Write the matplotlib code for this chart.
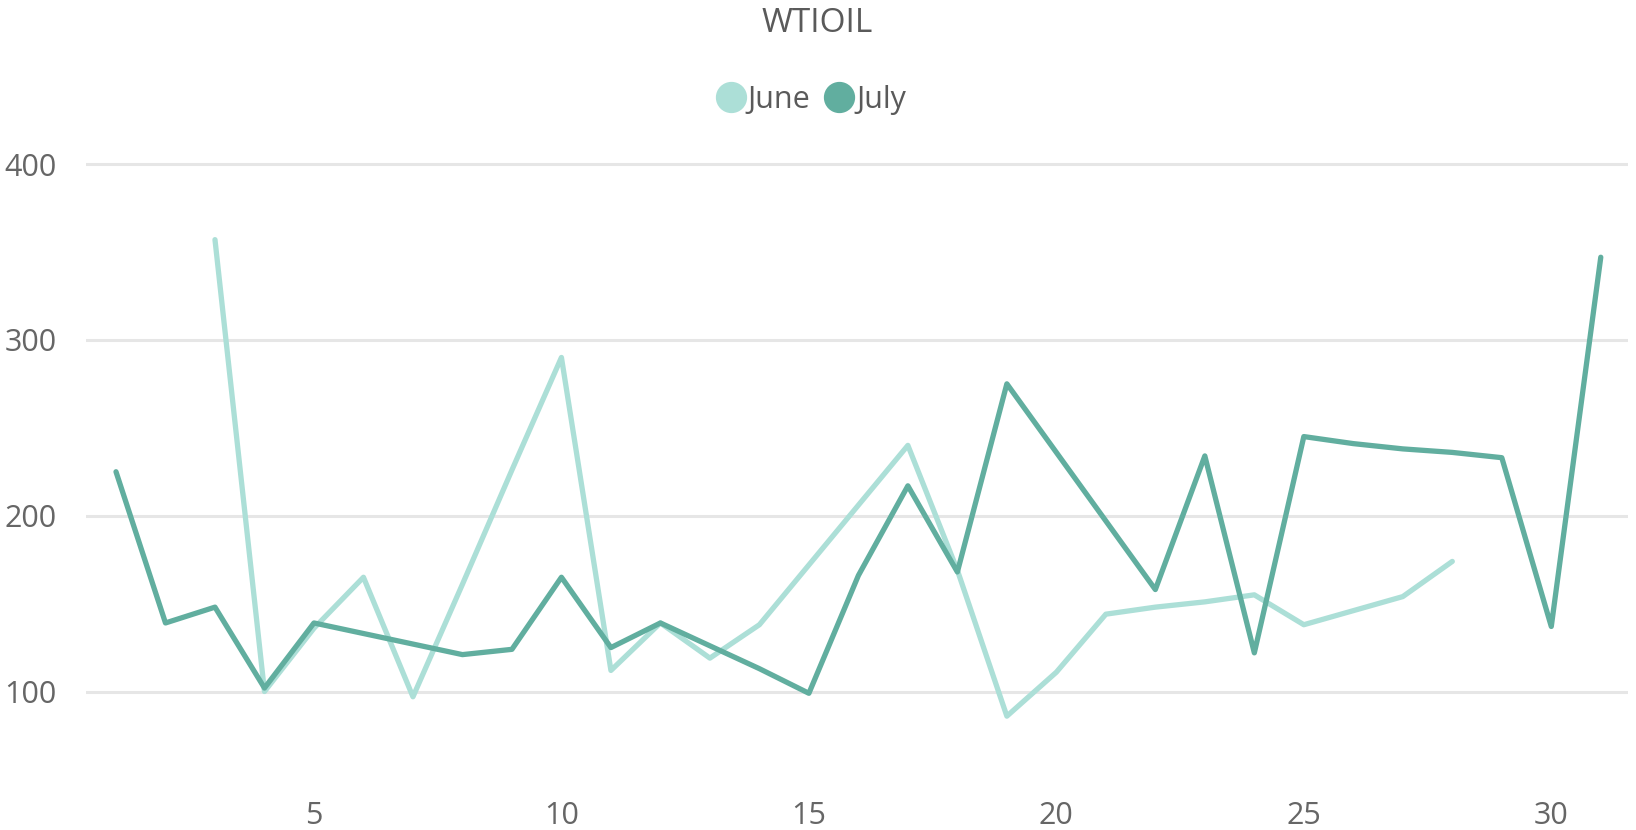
"""WTIOIL: giá dầu theo ngày, so sánh tháng 6 và tháng 7 (line chart kiểu Power BI)."""

import matplotlib

matplotlib.use("Agg")

import matplotlib.pyplot as plt  # noqa: E402
from matplotlib.lines import Line2D  # noqa: E402

# ── Palette ───────────────────────────────────────────────────────────────────
INK = "#5a5a5a"
MUTED = "#666666"
GRID = "#e6e6e6"
JUNE_COLOR = "#acdfd7"
JULY_COLOR = "#61ae9f"

# ── Data ──────────────────────────────────────────────────────────────────────
june_days = list(range(3, 29))
june_values = [357, 100, 136, 165, 97, 161, 226, 290, 112, 139, 119, 138, 172,
               206, 240, 169, 86, 111, 144, 148, 151, 155, 138, 146, 154, 174]

july_days = list(range(1, 32))
july_values = [225, 139, 148, 102, 139, 133, 127, 121, 124, 165, 125, 139, 126,
               113, 99, 166, 217, 168, 275, 236, 197, 158, 234, 122, 245, 241,
               238, 236, 233, 137, 347]

x_ticks = [5, 10, 15, 20, 25, 30]
y_ticks = [100, 200, 300, 400]

plt.rcParams.update({"font.family": ["Open Sans", "DejaVu Sans"]})

fig = plt.figure(figsize=(16.36, 8.30), dpi=100)
ax = fig.add_axes([0.05257, 0.04819, 0.94254, 0.75904])

line_kw = dict(linewidth=3.8, solid_capstyle="round", solid_joinstyle="round")
ax.plot(june_days, june_values, color=JUNE_COLOR, zorder=3, **line_kw)
ax.plot(july_days, july_values, color=JULY_COLOR, zorder=4, **line_kw)

ax.set_xlim(0.394, 31.55)
ax.set_ylim(44, 402.3)
ax.set_xticks(x_ticks)
ax.set_yticks(y_ticks)
ax.tick_params(axis="x", length=0, pad=8, labelsize=22, labelcolor=MUTED)
ax.tick_params(axis="y", length=0, pad=21, labelsize=22, labelcolor=MUTED)
ax.yaxis.grid(True, color=GRID, linewidth=2.2)
ax.set_axisbelow(True)
for sp in ax.spines.values():
    sp.set_visible(False)

fig.text(0.4995, 0.9614, "WTIOIL", ha="center", va="baseline", fontsize=24,
         color=INK)

handles = [
    Line2D([], [], linestyle="none", marker="o", markersize=21.5,
           markerfacecolor=JUNE_COLOR, markeredgecolor=JUNE_COLOR, label="June"),
    Line2D([], [], linestyle="none", marker="o", markersize=21.5,
           markerfacecolor=JULY_COLOR, markeredgecolor=JULY_COLOR, label="July"),
]
fig.legend(handles=handles, loc="center", bbox_to_anchor=(0.4965, 0.880), ncol=2,
           frameon=False, fontsize=22, labelcolor=INK, handlelength=0.8,
           handletextpad=0.15, columnspacing=0.55, borderpad=0)

fig.savefig("out.png", dpi=100, facecolor="white")
